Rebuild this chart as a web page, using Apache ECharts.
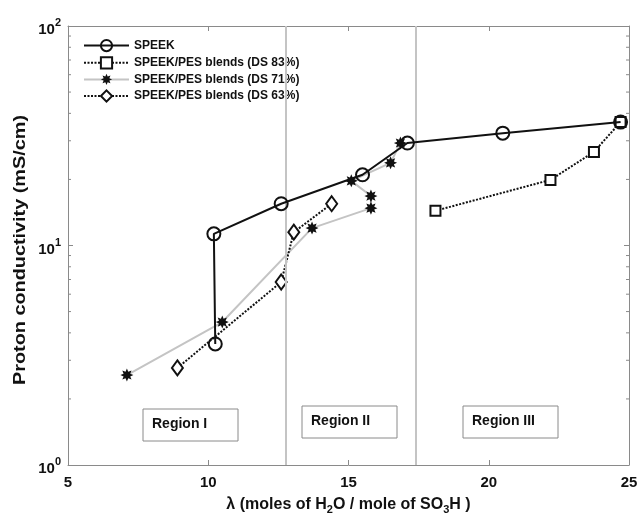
<!DOCTYPE html>
<html>
<head>
<meta charset="utf-8">
<script src="https://cdn.jsdelivr.net/npm/echarts@6/dist/echarts.min.js"></script>
<style>
  html, body { margin: 0; padding: 0; background: #fff; }
  #chart { width: 640px; height: 515px; }
</style>
</head>
<body>
<div id="chart"></div>
<script>
// Water uptake λ (moles H2O per mole SO3H) and proton conductivity (mS/cm)
const lambdaSPEEK = [10.25, 10.2, 12.6, 15.5, 17.1, 20.5, 24.7];
const sigmaSPEEK  = [3.56, 11.3, 15.5, 21.0, 29.3, 32.5, 36.5];

const lambdaDS83 = [18.1, 22.2, 23.75, 24.7];
const sigmaDS83  = [14.4, 19.9, 26.7, 36.5];

const lambdaDS71 = [7.1, 10.5, 13.7, 15.8, 15.8, 15.1, 16.5, 16.85];
const sigmaDS71  = [2.57, 4.48, 12.0, 14.8, 16.8, 19.7, 23.8, 29.3];

const lambdaDS63 = [8.9, 12.6, 13.05, 14.4];
const sigmaDS63  = [2.77, 6.82, 11.5, 15.5];

const seriesNames = ['SPEEK', 'SPEEK/PES blends (DS 83%)', 'SPEEK/PES blends (DS 71%)', 'SPEEK/PES blends (DS 63%)'];

// Region boundaries on the λ axis
const regionBounds = [12.75, 17.4];
const regionNames = ['Region I', 'Region II', 'Region III'];

// Axis ticks
const yMinorTicks = [2, 3, 4, 5, 6, 7, 8, 9, 20, 30, 40, 50, 60, 70, 80, 90];

const yTitle = 'Proton conductivity (mS/cm)';

const pairs = (xs, ys) => xs.map((x, i) => [x, ys[i]]);

// Eight-pointed burst used as the DS 71% marker
function burstPath() {
  const pts = [];
  const n = 8;
  for (let i = 0; i < n * 2; i++) {
    const r = i % 2 === 0 ? 10 : 5.5;
    const a = Math.PI * i / n - Math.PI / 2;
    pts.push((10 + r * Math.cos(a)).toFixed(2) + ',' + (10 + r * Math.sin(a)).toFixed(2));
  }
  return 'path://M' + pts.join('L') + 'Z';
}

const FONT = '"Liberation Sans", Arial, sans-serif';
const AXIS_GREY = '#8a8a8a';
const REGION_GREY = '#c4c4c4';

const chart = echarts.init(document.getElementById('chart'), null, { renderer: 'canvas' });

const axisBase = {
  min: 5, max: 25, interval: 5,
  axisLine: { show: true, onZero: false, lineStyle: { color: AXIS_GREY, width: 1 } },
  axisTick: { show: true, inside: true, length: 5, lineStyle: { color: AXIS_GREY } },
  splitLine: { show: false }
};

const yBase = {
  type: 'log', logBase: 10, min: 1, max: 100,
  axisLine: { show: true, onZero: false, lineStyle: { color: AXIS_GREY, width: 1 } },
  axisTick: { show: true, inside: true, length: 5, lineStyle: { color: AXIS_GREY } },
  splitLine: { show: false }
};

const option = {
  backgroundColor: '#fff',
  animation: false,
  textStyle: { fontFamily: FONT },
  grid: { left: 68, right: 11, top: 26, bottom: 50, containLabel: false, outerBoundsMode: 'none' },
  legend: {
    orient: 'vertical',
    left: 83, top: 39, padding: 0,
    itemWidth: 45, itemHeight: 14, itemGap: 4,
    data: seriesNames,
    textStyle: { fontFamily: FONT, fontWeight: 'bold', fontSize: 12, color: '#111' }
  },
  xAxis: [
    Object.assign({}, axisBase, {
      type: 'value', position: 'bottom',
      name: 'λ (moles of H{sub|2}O / mole of SO{sub|3}H )',
      nameLocation: 'middle', nameGap: 29,
      nameTextStyle: {
        fontFamily: FONT, fontWeight: 'bold', fontSize: 16, color: '#111',
        rich: { sub: { fontFamily: FONT, fontWeight: 'bold', fontSize: 11, color: '#111', verticalAlign: 'bottom', padding: [10, 0, 0, 0] } }
      },
      axisLabel: { margin: 10, fontFamily: FONT, fontWeight: 'bold', fontSize: 15, color: '#111' }
    }),
    Object.assign({}, axisBase, {
      type: 'value', position: 'top',
      axisLabel: { show: false }
    })
  ],
  yAxis: [
    Object.assign({}, yBase, {
      position: 'left',
      axisLabel: {
        margin: 7, color: '#111',
        formatter: v => '{b|10}{sup|' + Math.round(Math.log10(v)) + '}',
        rich: {
          b: { fontFamily: FONT, fontWeight: 'bold', fontSize: 15, color: '#111', padding: [8, 0, 0, 0] },
          sup: { fontFamily: FONT, fontWeight: 'bold', fontSize: 11, color: '#111', padding: [0, 0, 6, 0] }
        }
      }
    }),
    Object.assign({}, yBase, {
      position: 'right',
      axisLabel: { show: false }
    })
  ],
  graphic: [
    {
      // vertical axis title, slightly stretched along its length
      type: 'text', x: 21, y: 250, rotation: Math.PI / 2, scaleX: 1.24, silent: true,
      style: { text: yTitle, fontFamily: FONT, fontWeight: 'bold', fontSize: 16, fill: '#111',
        align: 'center', verticalAlign: 'middle' }
    }
  ].concat(regionNames.map((name, i) => {
    const boxes = [[143, 409], [302, 406], [463, 406]];
    return {
      type: 'group', x: boxes[i][0], y: boxes[i][1], silent: true,
      children: [
        { type: 'rect', shape: { x: 0, y: 0, width: 95, height: 32 },
          style: { fill: '#fff', stroke: '#8a8a8a', lineWidth: 1 } },
        { type: 'text', x: 9, y: 8,
          style: { text: name, fontFamily: FONT, fontWeight: 'bold', fontSize: 14, fill: '#111' } }
      ]
    };
  })),
  series: [
    {
      // log-scale minor ticks on both vertical edges, plus region boundaries
      type: 'custom', silent: true, z: 1,
      xAxisIndex: 0, yAxisIndex: 0,
      data: yMinorTicks.map(v => [5, v]),
      renderItem: (params, api) => {
        const v = api.value(1);
        const l = api.coord([5, v]);
        const r = api.coord([25, v]);
        const st = { stroke: AXIS_GREY, lineWidth: 1 };
        return {
          type: 'group', children: [
            { type: 'line', shape: { x1: l[0], y1: l[1], x2: l[0] + 3, y2: l[1] }, style: st },
            { type: 'line', shape: { x1: r[0], y1: r[1], x2: r[0] - 3, y2: r[1] }, style: st }
          ]
        };
      },
      markLine: {
        silent: true, symbol: 'none', label: { show: false },
        lineStyle: { color: REGION_GREY, width: 2, type: 'solid', opacity: 1 },
        emphasis: { disabled: true },
        data: regionBounds.map(x => ({ xAxis: x }))
      }
    },
    {
      name: seriesNames[2], type: 'line', z: 2,
      data: pairs(lambdaDS71, sigmaDS71),
      symbol: burstPath(), symbolSize: 13,
      itemStyle: { color: '#111', borderWidth: 0 },
      lineStyle: { color: REGION_GREY, width: 2 }
    },
    {
      name: seriesNames[3], type: 'line', z: 3,
      data: pairs(lambdaDS63, sigmaDS63),
      symbol: 'diamond', symbolSize: [11, 15],
      itemStyle: { color: '#fff', borderColor: '#111', borderWidth: 2 },
      lineStyle: { color: '#111', width: 2, type: [2, 1.5] }
    },
    {
      name: seriesNames[1], type: 'line', z: 4,
      data: pairs(lambdaDS83, sigmaDS83),
      symbol: 'rect', symbolSize: 10,
      itemStyle: { color: '#fff', borderColor: '#111', borderWidth: 2 },
      lineStyle: { color: '#111', width: 2, type: [2, 1.5] }
    },
    {
      name: seriesNames[0], type: 'line', z: 5,
      data: pairs(lambdaSPEEK, sigmaSPEEK),
      symbol: 'circle', symbolSize: 13,
      itemStyle: { color: 'rgba(255,255,255,0)', borderColor: '#111', borderWidth: 2 },
      lineStyle: { color: '#111', width: 2 }
    }
  ]
};

chart.setOption(option);
</script>
</body>
</html>
